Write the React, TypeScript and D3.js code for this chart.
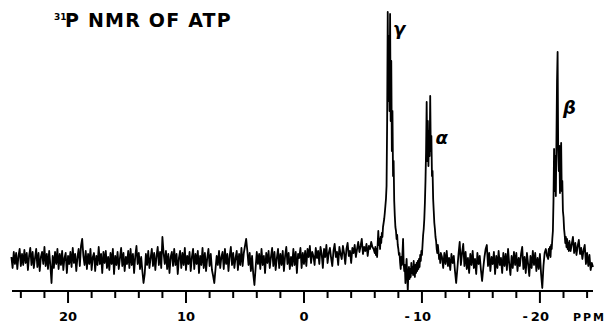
import React from "react";
import * as d3 from "d3";

// ---- data (ppm chemical shift, intensity in arbitrary units, baseline = 0) ----
// baseline segment 24.8 .. -5.9 ppm, 0.1 ppm apart
const baselineLeftStart = 24.8;
const baselineLeftStep = -0.1;
const baselineLeft = [
  4, -7, 9, -3, 8, -8, 5, 12, -5, 7,
  -4, 11, -2, 8, -9, 5, 13, -4, 9, -7,
  3, 12, -6, 8, -10, 4, 9, -3, 14, -5,
  7, -8, 10, -4, -22, 5, -7, 9, -3, 12,
  -8, 7, -4, 10, -9, 3, 8, -12, 5, -3,
  9, -6, 13, -2, 7, -10, 4, 12, -5, 15,
  22, 5, -4, 10, -8, 7, -3, 12, -9, 4,
  8, -10, 5, -4, 14, -3, 7, -12, 9, -2,
  10, -7, 4, -9, 8, -3, 12, -13, 5, -4,
  9, -8, 3, 13, -5, 8, -10, 4, -3, 10,
  -7, 12, -4, 7, -12, 5, 15, -3, 8, -8,
  4, -10, -22, -13, 7, -4, 10, -7, 3, 12,
  -5, 8, -9, 5, 14, -4, 9, -7, 24, 8,
  -3, 10, -8, 7, -12, 4, 9, -5, 12, -4,
  7, -13, 3, 10, -7, 8, -4, 13, -9, 5,
  -3, 9, -10, 4, 12, -8, 7, -3, 10, -12,
  5, -4, 13, -7, 8, -10, 3, 12, -5, 7,
  -9, -15, -22, -8, 5, -4, 10, -7, 4, 9,
  -8, 12, -3, 7, -10, 5, 14, -4, 8, -7,
  3, 10, -9, 7, -4, 13, -5, 8, 15, 22,
  10, -4, 8, -10, 5, -13, -24, -7, 9, -3,
  7, -8, 12, -4, 5, -12, 8, -2, 10, -7,
  4, 13, -5, 9, -9, 3, 12, -7, 7, -4,
  10, -10, 5, 14, -3, 8, -8, 4, -5, 12,
  -4, 9, -12, 7, 3, 13, -7, 8, -3, 10,
  -5, 12, 4, 15, -2, 9, 5, -4, 13, 3,
  10, -3, 14, 7, -7, 12, 4, 16, -2, 8,
  13, 3, -5, 10, 17, 4, 9, -4, 14, 7,
  2, 15, 8, -3, 12, 18, 5, 10, -2, 13,
  8, 16, 4, 12, 19, 9, 15, 22, 7, 14,
  10, 17, 5, 15, 12, 19, 14, 12,
];

// gamma and alpha region -6.00 .. -11.60 ppm, 0.05 ppm apart
const gammaAlphaStart = -6.0;
const gammaAlphaStep = -0.05;
const gammaAlpha = [
  8, 14, 6, 12, 4, 18, 30, 16, 22, 12,
  24, 18, 28, 24, 34, 38, 42, 48, 55, 62,
  75, 140, 249, 160, 225, 150, 247, 140, 200, 110,
  150, 85, 100, 60, 45, 34, 30, 22, 26, 16,
  12, 6, 8, -2, -8, 4, -4, 8, 22, -2,
  -10, -4, -22, -8, 2, -14, -30, -12, -6, -18,
  -8, -16, -2, -12, -6, -14, 0, -10, -16, -4,
  -12, -2, -10, 0, -8, 2, -6, 6, 0, 10,
  6, 16, 26, 32, 42, 58, 80, 110, 159, 100,
  140, 95, 130, 105, 165, 110, 125, 85, 90, 62,
  50, 38, 32, 24, 20, 12, 8, 16, 10, 2,
  6, -2, 8,
];

// baseline segment -11.7 .. -20.6 ppm, 0.1 ppm apart
const baselineMidStart = -11.7;
const baselineMidStep = -0.1;
const baselineMid = [
  4, -7, 8, -3, 10, -5, 3, -9, 7, -2,
  5, -10, -22, -8, 7, 19, -4, 8, 17, -5,
  9, -8, 3, -12, 7, -4, 10, -7, 2, -13,
  8, -3, 5, -9, -20, -7, 4, 12, 16, -5,
  8, -10, 4, -3, 9, -13, 5, -7, 10, -4,
  3, -12, 8, -5, 7, -9, 12, -3, -14, 5,
  -7, 9, -4, 8, -10, 3, -5, 7, 14, -8,
  4, -12, 8, -3, -15, 5, -7, 10, -4, 8,
  -10, 3, -8, 7, -13, -27, -5, 8, 12, 5,
];

// beta region -20.70 .. -22.45 ppm, 0.05 ppm apart
const betaStart = -20.7;
const betaStep = -0.05;
const beta = [
  2, 12, 6, 14, 4, 16, 12, 22, 30, 60,
  112, 70, 105, 65, 120, 180, 209, 110, 90, 115,
  68, 100, 118, 70, 80, 50, 44, 32, 26, 18,
  24, 14, 22, 12, 18, 10,
];

// tail -22.5 .. -24.5 ppm, 0.1 ppm apart
const tailStart = -22.5;
const tailStep = -0.1;
const tail = [
  20, 10, 17, 24, 8, 18, 6, 15, 21, 7,
  13, 2, 11, 16, -3, 8, -5, 6, -9, -2, -6,
];

const tickValues = d3.range(24, -25, -2);
const labelValues = [20, 10, 0, -10, -20];

const peakLabels = [
  { text: "γ", ppm: -7.55, value: 226 },
  { text: "α", ppm: -11.15, value: 117 },
  { text: "β", ppm: -21.95, value: 147 },
];

// ---- layout ----
const W = 606;
const H = 324;
const x = d3.scaleLinear().domain([24.75, -24.5]).range([12, 593]);
const y = d3.scaleLinear().domain([0, 248]).range([261, 13]);
const axisY = 291;

type Pt = { ppm: number; value: number };
const seg = (start: number, step: number, vals: number[]): Pt[] =>
  vals.map((v, i) => ({ ppm: start + step * i, value: v }));

const points: Pt[] = [
  ...seg(baselineLeftStart, baselineLeftStep, baselineLeft),
  ...seg(gammaAlphaStart, gammaAlphaStep, gammaAlpha),
  ...seg(baselineMidStart, baselineMidStep, baselineMid),
  ...seg(betaStart, betaStep, beta),
  ...seg(tailStart, tailStep, tail),
];

const line = d3
  .line<Pt>()
  .x((d) => x(d.ppm))
  .y((d) => y(d.value));

const FONT = "'DejaVu Sans', sans-serif";

export default function App() {
  return (
    <svg
      width={W}
      height={H}
      style={{ position: "absolute", left: 0, top: 0, background: "#fff" }}
    >
      <rect width={W} height={H} fill="#fff" />
      <text x={54} y={20} fontFamily={FONT} fontWeight="bold" fontSize={9}>
        31
      </text>
      <text
        x={65}
        y={27}
        fontFamily={FONT}
        fontWeight="bold"
        fontSize={19}
        letterSpacing={1.2}
      >
        P NMR OF ATP
      </text>

      <path
        d={line(points) || ""}
        fill="none"
        stroke="#000"
        strokeWidth={1.8}
        strokeLinejoin="round"
      />

      {peakLabels.map((p) => (
        <text
          key={p.text}
          x={x(p.ppm)}
          y={y(p.value)}
          fontFamily={FONT}
          fontWeight="bold"
          fontStyle="italic"
          fontSize={18}
        >
          {p.text}
        </text>
      ))}

      <line
        x1={x(24.75)}
        x2={x(-24.5)}
        y1={axisY}
        y2={axisY}
        stroke="#000"
        strokeWidth={2}
      />
      {tickValues.map((t) => {
        const major = t % 10 === 0;
        return (
          <line
            key={t}
            x1={x(t)}
            x2={x(t)}
            y1={axisY}
            y2={axisY + (major ? 12 : 7)}
            stroke="#000"
            strokeWidth={2}
          />
        );
      })}
      {labelValues.map((v) => (
        <g key={v}>
          <text
            x={x(v)}
            y={321}
            textAnchor="middle"
            fontFamily={FONT}
            fontWeight="bold"
            fontSize={13}
          >
            {Math.abs(v)}
          </text>
          {v < 0 && (
            <text
              x={x(v) - 12}
              y={321}
              textAnchor="end"
              fontFamily={FONT}
              fontWeight="bold"
              fontSize={13}
            >
              -
            </text>
          )}
        </g>
      ))}
      <text
        x={573}
        y={321}
        fontFamily={FONT}
        fontWeight="bold"
        fontSize={11}
        letterSpacing={2}
      >
        PPM
      </text>
    </svg>
  );
}
